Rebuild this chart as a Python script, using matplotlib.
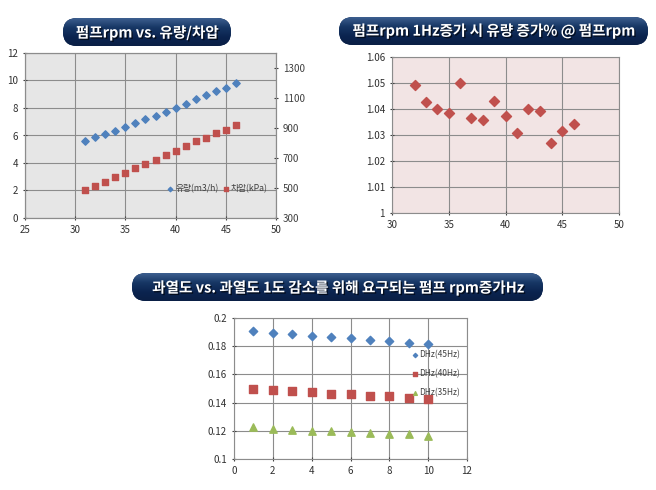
import matplotlib
matplotlib.use('Agg')
import matplotlib.pyplot as plt
import numpy as np
from matplotlib.patches import FancyBboxPatch
import matplotlib.patheffects as pe

plt.rcParams['font.family'] = ['Noto Sans CJK KR', 'DejaVu Sans']

# chart 1: pump Hz vs flow / pressure difference
hz1 = [31, 32, 33, 34, 35, 36, 37, 38, 39, 40, 41, 42, 43, 44, 45, 46]
flow = [5.59, 5.86, 6.10, 6.36, 6.63, 6.92, 7.18, 7.45, 7.73, 8.02, 8.29, 8.63, 8.94, 9.20, 9.47, 9.81]
dp = [488, 510, 543, 571, 600, 633, 662, 686, 722, 744, 781, 810, 836, 867, 889, 918]

# chart 2: flow increase ratio per 1Hz
hz2 = [32, 33, 34, 35, 36, 37, 38, 39, 40, 41, 42, 43, 44, 45, 46]
ratio = [1.0494, 1.0427, 1.0401, 1.0385, 1.0499, 1.0364, 1.0356, 1.0429, 1.0372,
         1.0306, 1.0401, 1.0394, 1.0269, 1.0314, 1.0344]

# chart 3: superheat vs required Hz increase
sh = [1, 2, 3, 4, 5, 6, 7, 8, 9, 10]
dhz45 = [0.1906, 0.1895, 0.1885, 0.1875, 0.1865, 0.1855, 0.1845, 0.1835, 0.1825, 0.1815]
dhz40 = [0.1499, 0.1487, 0.1482, 0.1472, 0.1461, 0.1459, 0.1449, 0.1444, 0.1431, 0.1426]
dhz35 = [0.1228, 0.1216, 0.1209, 0.1202, 0.1198, 0.1191, 0.1184, 0.1179, 0.1174, 0.1165]

titles = ['펌프rpm vs. 유량/차압',
          '펌프rpm 1Hz증가 시 유량 증가% @ 펌프rpm',
          '과열도 vs. 과열도 1도 감소를 위해 요구되는 펌프 rpm증가Hz']

BLUE = '#4f81bd'
RED = '#c0504d'
GREEN = '#9bbb59'
GRID = '#8c8c8c'
W, H = 656, 490

fig = plt.figure(figsize=(6.56, 4.90), dpi=100)
fig.patch.set_facecolor('white')


def px_axes(l, t, r, b):
    return fig.add_axes([l / W, 1 - b / H, (r - l) / W, (b - t) / H])


def style(ax, bg):
    ax.set_facecolor(bg)
    for s in ax.spines.values():
        s.set_color(GRID)
        s.set_linewidth(0.8)
    ax.grid(True, color=GRID, linewidth=0.8)
    ax.set_axisbelow(True)
    ax.tick_params(labelsize=7, colors='#404040', length=3, width=0.8, direction='inout')
    for t in ax.get_xticklabels() + ax.get_yticklabels():
        t.set_color('#303030')


# ---- chart 1
ax1 = px_axes(25, 53, 276, 218)
ax1.scatter(hz1, flow, marker='D', s=14, color=BLUE, label='유량(m3/h)', zorder=3)
ax1.set_xlim(25, 50)
ax1.set_ylim(0, 12)
ax1.set_xticks([25, 30, 35, 40, 45, 50])
ax1.set_yticks(range(0, 13, 2))
style(ax1, '#e6e6e6')
ax1b = ax1.twinx()
ax1b.scatter(hz1, dp, marker='s', s=22, color=RED, label='차압(kPa)', zorder=3)
ax1b.set_ylim(300, 1400)
ax1b.set_yticks(range(300, 1301, 200))
ax1b.tick_params(labelsize=7, colors='#404040', length=3, width=0.8, direction='inout')
for s in ax1b.spines.values():
    s.set_color(GRID)
    s.set_linewidth(0.8)
h1, l1 = ax1.get_legend_handles_labels()
h2, l2 = ax1b.get_legend_handles_labels()
leg = ax1b.legend(h1 + h2, l1 + l2, loc='center right', bbox_to_anchor=(0.985, 0.175), ncol=2,
                  frameon=False, fontsize=6.3, handletextpad=0.05, columnspacing=0.4,
                  markerscale=0.6, borderpad=0, handlelength=1.0)
for t in leg.get_texts():
    t.set_color('#404040')

# ---- chart 2
ax2 = px_axes(392, 57, 619, 213)
ax2.scatter(hz2, ratio, marker='D', s=26, color=RED, zorder=3)
ax2.set_xlim(30, 50)
ax2.set_ylim(1.0, 1.06)
ax2.set_xticks([30, 35, 40, 45, 50])
ax2.set_yticks([1.0, 1.01, 1.02, 1.03, 1.04, 1.05, 1.06])
ax2.set_yticklabels(['1', '1.01', '1.02', '1.03', '1.04', '1.05', '1.06'])
style(ax2, '#f2e4e4')

# ---- chart 3
ax3 = px_axes(234, 318, 467, 459)
ax3.scatter(sh, dhz45, marker='D', s=18, color=BLUE, label='DHz(45Hz)', zorder=3)
ax3.scatter(sh, dhz40, marker='s', s=40, color=RED, label='DHz(40Hz)', zorder=3)
ax3.scatter(sh, dhz35, marker='^', s=28, color=GREEN, label='DHz(35Hz)', zorder=3)
ax3.set_xlim(0, 12)
ax3.set_ylim(0.1, 0.2)
ax3.set_xticks(range(0, 13, 2))
ax3.set_yticks([0.1, 0.12, 0.14, 0.16, 0.18, 0.2])
ax3.set_yticklabels(['0.1', '0.12', '0.14', '0.16', '0.18', '0.2'])
style(ax3, 'white')
leg3 = ax3.legend(loc='upper left', bbox_to_anchor=(0.745, 0.80), frameon=False, fontsize=6,
                  labelspacing=1.15, handletextpad=0.1, markerscale=0.5, borderpad=0,
                  handlelength=0.8)
for t in leg3.get_texts():
    t.set_color('#404040')

# ---- title banners
ov = fig.add_axes([0, 0, 1, 1], zorder=5)
ov.set_xlim(0, W)
ov.set_ylim(H, 0)
ov.axis('off')
ov.patch.set_alpha(0)

banners = [(63, 18, 231, 46), (339, 17, 648, 45), (132, 273, 543, 301)]
grad = np.linspace(0, 1, 100).reshape(-1, 1)
cmap = matplotlib.colors.LinearSegmentedColormap.from_list(
    'navy', ['#3d5f8f', '#173765', '#0b2450', '#0a1f45'])
for (l, t, r, b), title in zip(banners, titles):
    hgt = b - t
    box = FancyBboxPatch((l, t), r - l, hgt,
                         boxstyle='round,pad=0,rounding_size=%f' % (hgt / 2),
                         facecolor='#0f2a55', edgecolor='none')
    ov.add_patch(box)
    im = ov.imshow(grad, extent=(l, r, b, t), cmap=cmap, aspect='auto', zorder=2)
    im.set_clip_path(box)
    ov.text((l + r) / 2, (t + b) / 2 + 0.5, title, color='white', fontsize=10.5,
            fontweight='bold', ha='center', va='center', zorder=3,
            path_effects=[pe.withSimplePatchShadow(offset=(1, -1), shadow_rgbFace='black', alpha=0.6)])
ov.set_xlim(0, W)
ov.set_ylim(H, 0)

fig.savefig('out.png', dpi=100)
